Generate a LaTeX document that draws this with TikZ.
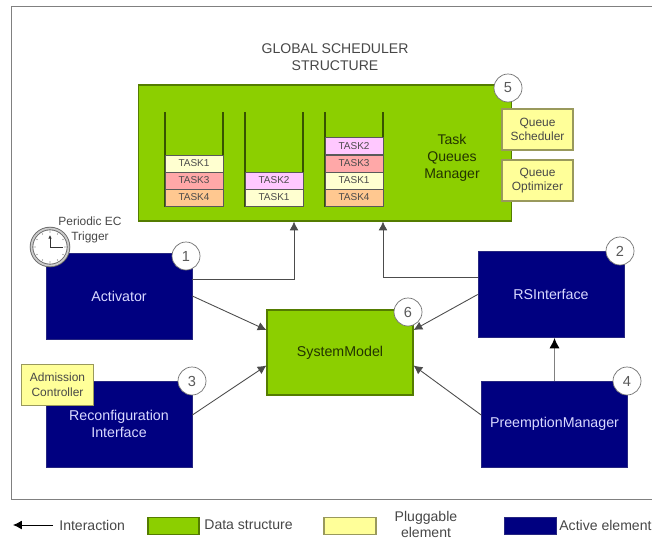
\documentclass[tikz,border=0pt]{standalone}
\usepackage{fontspec}
\setmainfont{Liberation Sans}
\usetikzlibrary{arrows.meta}
\definecolor{dsgreen}{HTML}{8CCF00}
\definecolor{activeblue}{HTML}{000080}
\definecolor{plugyellow}{HTML}{FFFF99}
\definecolor{taskA}{HTML}{FFFFD0}
\definecolor{taskB}{HTML}{FFC8FF}
\definecolor{taskC}{HTML}{FFA8A8}
\definecolor{taskD}{HTML}{FFC890}
\tikzset{
  databox/.style={draw=black!40!dsgreen, fill=dsgreen, text=black!75!dsgreen, line width=0.6pt, align=center, font=\fontsize{8.1}{9.8}\selectfont},
  activebox/.style={fill=activeblue, draw=activeblue!70!gray, line width=0.4pt, text=white!85!blue, align=center, font=\fontsize{8.1}{9.7}\selectfont},
  plugbox/.style={draw=black!40!plugyellow, fill=plugyellow, line width=0.7pt, text=black!72, align=center, inner sep=0pt, font=\fontsize{6.8}{8.4}\selectfont},
  taskcell/.style={draw=black!65, fill=#1, line width=0.5pt, minimum width=1.16cm, minimum height=0.34cm, inner sep=0pt, text=black!70, font=\fontsize{5.7}{7}\selectfont},
  numdot/.style={circle, draw=black!55, fill=white, line width=0.4pt, minimum size=0.56cm, inner sep=0pt, text=black!65, font=\fontsize{8.3}{10}\selectfont},
  txt/.style={text=black!72, align=center, inner sep=0pt, font=\fontsize{8}{9.6}\selectfont},
  flow/.style={black!70, line width=0.5pt, -{Latex[length=5pt,width=5pt]}},
  wall/.style={black!60!dsgreen, line width=0.6pt}
}
\begin{document}
\begin{tikzpicture}[x=0.02cm,y=-0.02cm]
  \useasboundingbox (0,0) rectangle (652,538);
  % Rahmen
  \draw[gray, line width=0.8pt] (11.5,6.5) -- (670,6.5) -- (670,499.5) -- (11.5,499.5) -- cycle;
  \node[txt] (title) at (335,57) {GLOBAL SCHEDULER\\STRUCTURE};
  % Task queues
  \node[databox, minimum width=7.48cm, minimum height=2.72cm] (queues) at (325,153) {};
  \node[txt, text=black!75!dsgreen, font=\fontsize{8}{9.8}\selectfont] (queuestxt) at (452,158) {Task\\Queues\\Manager};
  \foreach \x in {165,245,325} {
    \draw[wall] (\x,112) -- (\x,206) -- (\x+58,206) -- (\x+58,112);
  }
  \foreach \name/\x/\y/\lab/\col in {a1/194/163.5/TASK1/taskA, a2/194/180.5/TASK3/taskC, a3/194/197.5/TASK4/taskD,
      b1/274/180.5/TASK2/taskB, b2/274/197.5/TASK1/taskA,
      c1/354/146/TASK2/taskB, c2/354/163.5/TASK3/taskC, c3/354/180.5/TASK1/taskA, c4/354/197.5/TASK4/taskD} {
    \node[taskcell=\col] (\name) at (\x,\y) {\lab};
  }
  \node[plugbox, minimum width=1.42cm, minimum height=0.82cm] (qsched) at (537.5,129.5) {Queue\\Scheduler};
  \node[plugbox, minimum width=1.42cm, minimum height=0.82cm] (qopt) at (537.5,180.5) {Queue\\Optimizer};
  % Bloecke
  \node[activebox, minimum width=2.92cm, minimum height=1.72cm] (activator) at (119,296) {Activator};
  \node[activebox, minimum width=2.92cm, minimum height=1.72cm] (rsif) at (551,294.5) {RSInterface};
  \node[activebox, minimum width=2.92cm, minimum height=1.72cm] (reconf) at (119,424) {Reconfiguration\\Interface};
  \node[activebox, minimum width=2.92cm, minimum height=1.72cm] (preempt) at (554.5,424) {PreemptionManager};
  \node[databox, minimum width=2.92cm, minimum height=1.70cm] (sysmodel) at (340,352.5) {SystemModel};
  \node[plugbox, minimum width=1.43cm, minimum height=0.83cm] (admission) at (57.5,385) {Admission\\Controller};
  % Nummern
  \foreach \name/\x/\y/\num in {n1/186/256/1, n2/620/251/2, n3/192/381/3, n4/627/381/4, n5/508/88/5, n6/408/312/6} {
    \node[numdot] (\name) at (\x,\y) {\num};
  }
  % Uhr
  \node[txt, font=\fontsize{6.8}{8.5}\selectfont] (trigger) at (90,229.5) {Periodic EC\\Trigger};
  \node[circle, draw=black!60, fill=white, double=gray!40, double distance=1pt, line width=0.5pt, minimum size=0.74cm, inner sep=0pt] (clock) at (50,247) {};
  \foreach \a in {0,30,...,330} {
    \fill[black!55] (clock.center) ++(\a:15) circle (0.3pt);
  }
  \draw[black!80, line width=0.4pt, -{Latex[length=2pt,width=2pt]}] (clock.center) -- ++(0,-12);
  \draw[black!80, line width=0.5pt] (clock.center) -- ++(13,0);
  % Verbindungen
  \draw[flow] (activator.13) -| ([xshift=-0.62cm]queues.south);
  \draw[flow] (rsif.167) -| ([xshift=1.16cm]queues.south);
  \draw[flow] (activator.east) -- (sysmodel.163);
  \draw[flow] (reconf.7) -- (sysmodel.190);
  \draw[flow] (rsif.west) -- (sysmodel.17);
  \draw[flow] (preempt.173) -- (sysmodel.-10);
  \draw[flow, gray, line width=1pt, -{Latex[length=6pt,width=6pt,color=black]}] (preempt.north) -- (preempt.north |- rsif.south);
  % Legende
  \coordinate (legA) at (53,525);
  \coordinate (legB) at (13,525);
  \draw[black, line width=0.5pt, -{Latex[length=5pt,width=5pt]}] (legA) -- (legB);
  \node[txt, anchor=west] (legflow) at (59,525) {Interaction};
  \node[databox, minimum width=1.02cm, minimum height=0.34cm] (legdata) at (173.5,526) {};
  \node[txt, anchor=west] (legdatatxt) at (204,525) {Data structure};
  \node[plugbox, minimum width=1.04cm, minimum height=0.34cm] (legplug) at (350,526) {};
  \node[txt, font=\fontsize{8}{9.2}\selectfont] (legplugtxt) at (426,524.5) {Pluggable\\element};
  \node[activebox, minimum width=1.04cm, minimum height=0.34cm] (legactive) at (530,526) {};
  \node[txt, anchor=west] (legactivetxt) at (559,525) {Active element};
\end{tikzpicture}
\end{document}
